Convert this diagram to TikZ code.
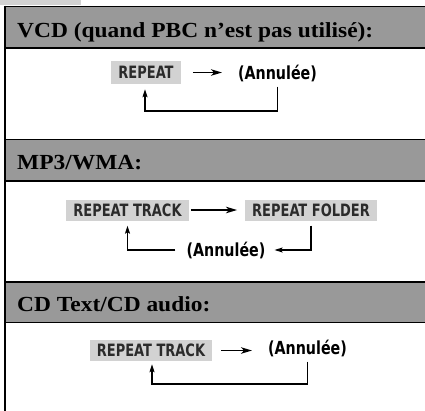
\documentclass[tikz,border=0pt]{standalone}
\usepackage{fontspec}
\setmainfont{Liberation Serif}
\newfontfamily\keyfont[FakeStretch=0.85]{DejaVu Sans Condensed}
\newfontfamily\labfont[FakeStretch=0.88]{DejaVu Sans Condensed}
\newfontfamily\headfont[FakeStretch=1.09]{Liberation Serif}
\usetikzlibrary{arrows.meta}
\definecolor{bandgray}{HTML}{999999}
\definecolor{keygray}{HTML}{D2D2D2}
\definecolor{keytext}{HTML}{2B2B2B}

\begin{document}
\begin{tikzpicture}[x=1pt,y=-1pt,
  band/.style={fill=bandgray,draw=black,line width=1.5pt},
  headtxt/.style={anchor=base west,inner sep=0pt,font=\headfont\bfseries\fontsize{21.5}{24}\selectfont},
  key/.style={fill=keygray,text=keytext,inner xsep=7pt,inner ysep=0pt,minimum height=21pt,
    font=\keyfont\bfseries\fontsize{17}{20}\selectfont},
  off/.style={anchor=base,inner sep=0pt,font=\labfont\bfseries\fontsize{18}{21}\selectfont},
  nextarr/.style={line width=1.4pt,-{Stealth[length=11pt,width=6.5pt,inset=3pt]}},
  backline/.style={line width=1.3pt,-{Stealth[length=8pt,width=5pt,inset=1.5pt]}}
]
\useasboundingbox (0,0) rectangle (425,410);
\fill[keygray] (0,0) rectangle (81,4.5);
% section bands
\draw[band] (5,6.5) rectangle (428,48);
\draw[band] (5,139.5) rectangle (428,181);
\draw[band] (5,282) rectangle (428,322.5);
\draw[line width=2.5pt] (5,5.5) -- (5,412);
\node[headtxt] (head1) at (17,37.5) {VCD (quand PBC n’est pas utilisé):};
\node[headtxt] (head2) at (17,169.5) {MP3/WMA:};
\node[headtxt] (head3) at (17,311) {CD Text/CD audio:};

% VCD
\node[key,minimum height=23pt] (rep1) at (146,72.5) {REPEAT};
\node[off] (ann1) at (277.5,79) {(Annulée)};
\draw[nextarr] ([xshift=12pt]rep1.east) -- ([xshift=-16pt]ann1.west |- rep1.east);
\coordinate (turn1) at (145,111);
\draw[backline] ([yshift=-5pt]ann1.south) |- (turn1) -- ([yshift=-5pt]turn1 |- rep1.south);

% MP3/WMA
\node[key] (trk2) at (127.5,210) {REPEAT TRACK};
\node[key] (fld2) at (311,210) {REPEAT FOLDER};
\node[off] (ann2) at (226,256) {(Annulée)};
\draw[nextarr] ([xshift=2pt]trk2.east) -- ([xshift=-8pt]fld2.west);
\draw[backline] ([yshift=-5pt]fld2.south) |- ([xshift=9pt]ann2.east);
\draw[backline] ([xshift=-11pt]ann2.west) -| ([yshift=-5pt]trk2.south);

% CD Text/CD audio
\node[key] (trk3) at (151,350.5) {REPEAT TRACK};
\node[off] (ann3) at (307.5,354) {(Annulée)};
\draw[nextarr] ([xshift=9pt]trk3.east) -- ([xshift=-16pt]ann3.west |- trk3.east);
\coordinate (turn3) at (152,384);
\draw[backline] ([yshift=-5pt]ann3.south) |- (turn3) -- ([yshift=-3pt]turn3 |- trk3.south);
\end{tikzpicture}
\end{document}
